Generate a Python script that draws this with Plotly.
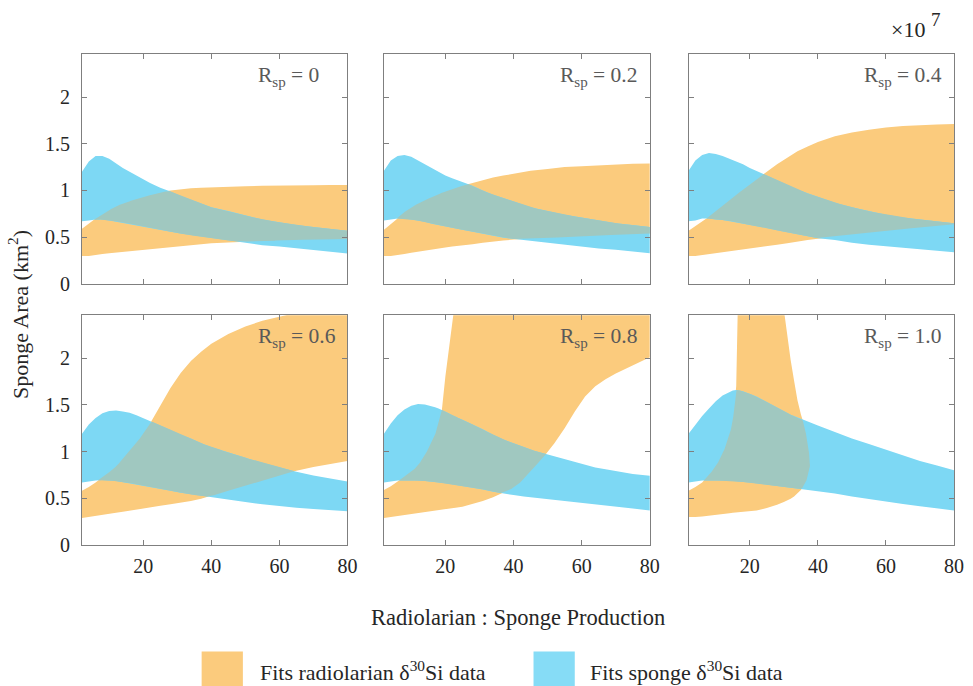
import numpy as np
import plotly.graph_objects as go

# ---------------- data ----------------
rsp_labels = ["0", "0.2", "0.4", "0.6", "0.8", "1.0"]

x_tick_vals = [20, 40, 60, 80]
y_tick_vals = [0, 0.5, 1, 1.5, 2]
y_tick_text = ["0", "0.5", "1", "1.5", "2"]

x_std = [2, 4, 6, 8, 10, 12, 14, 16, 18, 20, 22, 25, 28, 31, 34, 37, 40, 45, 50, 55, 60, 65, 70, 75, 80]

# R_sp = 0
x_r0 = x_std
sp_hi_r0 = [1.20, 1.31, 1.37, 1.37, 1.34, 1.29, 1.24, 1.20, 1.16, 1.12, 1.08, 1.03, 0.99, 0.94, 0.90, 0.86, 0.82, 0.78, 0.735, 0.69, 0.66, 0.63, 0.61, 0.59, 0.57]
sp_lo_r0 = [0.67, 0.68, 0.69, 0.69, 0.68, 0.67, 0.66, 0.645, 0.63, 0.615, 0.60, 0.58, 0.56, 0.54, 0.52, 0.505, 0.49, 0.465, 0.44, 0.415, 0.40, 0.38, 0.365, 0.345, 0.325]
rad_hi_r0 = [0.59, 0.65, 0.70, 0.75, 0.79, 0.83, 0.86, 0.885, 0.91, 0.93, 0.95, 0.98, 1.00, 1.015, 1.025, 1.03, 1.035, 1.04, 1.045, 1.05, 1.05, 1.055, 1.055, 1.06, 1.06]
rad_lo_r0 = [0.30, 0.30, 0.31, 0.32, 0.33, 0.34, 0.345, 0.35, 0.36, 0.37, 0.375, 0.385, 0.395, 0.405, 0.415, 0.425, 0.435, 0.445, 0.455, 0.46, 0.465, 0.47, 0.475, 0.478, 0.48]

# R_sp = 0.2
x_r2 = x_std
sp_hi_r2 = [1.21, 1.32, 1.37, 1.38, 1.36, 1.32, 1.28, 1.235, 1.20, 1.16, 1.13, 1.09, 1.05, 1.00, 0.955, 0.92, 0.88, 0.82, 0.78, 0.74, 0.71, 0.68, 0.65, 0.63, 0.61]
sp_lo_r2 = [0.68, 0.69, 0.70, 0.70, 0.69, 0.68, 0.665, 0.645, 0.63, 0.615, 0.60, 0.58, 0.56, 0.54, 0.515, 0.495, 0.48, 0.46, 0.44, 0.42, 0.40, 0.38, 0.365, 0.35, 0.33]
rad_hi_r2 = [0.58, 0.64, 0.71, 0.77, 0.82, 0.86, 0.895, 0.93, 0.96, 0.99, 1.01, 1.05, 1.08, 1.11, 1.14, 1.16, 1.18, 1.21, 1.23, 1.25, 1.26, 1.27, 1.28, 1.285, 1.29]
rad_lo_r2 = [0.30, 0.30, 0.31, 0.32, 0.335, 0.345, 0.355, 0.37, 0.38, 0.39, 0.40, 0.415, 0.425, 0.44, 0.455, 0.465, 0.475, 0.485, 0.495, 0.50, 0.51, 0.52, 0.525, 0.533, 0.54]

# R_sp = 0.4
x_r4 = x_std
sp_hi_r4 = [1.21, 1.32, 1.38, 1.40, 1.39, 1.37, 1.34, 1.31, 1.28, 1.24, 1.21, 1.16, 1.11, 1.06, 1.01, 0.97, 0.93, 0.87, 0.82, 0.78, 0.74, 0.71, 0.69, 0.67, 0.65]
sp_lo_r4 = [0.67, 0.68, 0.70, 0.70, 0.69, 0.685, 0.675, 0.66, 0.645, 0.63, 0.62, 0.60, 0.575, 0.55, 0.53, 0.51, 0.49, 0.47, 0.44, 0.42, 0.40, 0.385, 0.37, 0.355, 0.34]
rad_hi_r4 = [0.57, 0.62, 0.665, 0.72, 0.78, 0.835, 0.89, 0.95, 1.01, 1.07, 1.12, 1.20, 1.28, 1.35, 1.42, 1.47, 1.52, 1.58, 1.62, 1.65, 1.675, 1.69, 1.70, 1.705, 1.71]
rad_lo_r4 = [0.30, 0.30, 0.31, 0.32, 0.33, 0.34, 0.35, 0.36, 0.37, 0.38, 0.39, 0.405, 0.42, 0.435, 0.45, 0.47, 0.485, 0.505, 0.53, 0.55, 0.57, 0.59, 0.605, 0.62, 0.64]

# R_sp = 0.6
x_r6 = x_std
sp_hi_r6 = [1.19, 1.29, 1.36, 1.41, 1.435, 1.44, 1.43, 1.415, 1.39, 1.36, 1.33, 1.28, 1.23, 1.18, 1.14, 1.09, 1.05, 0.99, 0.935, 0.88, 0.83, 0.785, 0.745, 0.71, 0.68]
sp_lo_r6 = [0.67, 0.68, 0.69, 0.695, 0.69, 0.685, 0.675, 0.665, 0.65, 0.635, 0.62, 0.60, 0.58, 0.56, 0.54, 0.525, 0.515, 0.485, 0.46, 0.435, 0.415, 0.40, 0.385, 0.37, 0.36]
rad_hi_r6 = [0.58, 0.62, 0.67, 0.73, 0.78, 0.84, 0.92, 1.00, 1.09, 1.19, 1.30, 1.49, 1.68, 1.84, 1.97, 2.07, 2.155, 2.26, 2.34, 2.40, 2.445, 2.49, 2.53, 2.56, 2.59]
rad_lo_r6 = [0.29, 0.30, 0.31, 0.32, 0.335, 0.345, 0.355, 0.365, 0.38, 0.39, 0.40, 0.42, 0.435, 0.45, 0.47, 0.495, 0.525, 0.58, 0.64, 0.695, 0.75, 0.795, 0.835, 0.87, 0.90]

# R_sp = 0.8
x_r8 = [2, 4, 6, 8, 10, 12, 14, 16, 17, 18, 19, 20, 21, 22, 23, 25, 28, 31, 34, 37, 40,
        43, 46, 49, 52, 55, 58, 61, 64, 67, 70, 75, 80]
sp_hi_r8 = [1.19, 1.30, 1.39, 1.45, 1.49, 1.51, 1.505, 1.49, 1.475, 1.46, 1.445, 1.43, 1.41, 1.39, 1.375,
            1.34, 1.29, 1.24, 1.18, 1.13, 1.09, 1.05, 1.01, 0.98, 0.95, 0.92, 0.89, 0.86, 0.83, 0.81, 0.79, 0.76, 0.74]
sp_lo_r8 = [0.67, 0.68, 0.69, 0.69, 0.69, 0.69, 0.685, 0.68, 0.675, 0.67, 0.665, 0.66, 0.655, 0.65, 0.645,
            0.635, 0.615, 0.595, 0.57, 0.55, 0.535, 0.52, 0.505, 0.49, 0.48, 0.47, 0.455, 0.445, 0.435, 0.42, 0.41, 0.39, 0.37]
rad_hi_r8 = [0.59, 0.63, 0.68, 0.73, 0.78, 0.85, 0.96, 1.10, 1.18, 1.30, 1.45, 1.80, 2.10, 2.40, 2.65,
             2.8, 2.8, 2.8, 2.8, 2.8, 2.8, 2.8, 2.8, 2.8, 2.8, 2.8, 2.8, 2.8, 2.8, 2.8, 2.8, 2.8, 2.8]
rad_lo_r8 = [0.29, 0.30, 0.31, 0.32, 0.335, 0.345, 0.355, 0.365, 0.37, 0.375, 0.38, 0.385, 0.39, 0.395, 0.40,
             0.41, 0.44, 0.47, 0.51, 0.56, 0.61, 0.70, 0.83, 0.95, 1.09, 1.25, 1.43, 1.59, 1.70, 1.775, 1.835, 1.925, 2.01]

# R_sp = 1.0
x_r10 = [2, 4, 6, 8, 10, 12, 14, 15, 16, 16.5, 17, 18, 20, 22, 25, 28, 30,
         31, 32, 33, 34, 35, 36, 37, 37.8, 40, 45, 50, 55, 60, 65, 70, 75, 80]
sp_hi_r10 = [1.19, 1.29, 1.38, 1.46, 1.54, 1.60, 1.64, 1.655, 1.66, 1.66, 1.655, 1.645, 1.62, 1.59, 1.53, 1.47, 1.43,
             1.41, 1.395, 1.38, 1.365, 1.35, 1.335, 1.32, 1.31, 1.28, 1.21, 1.14, 1.08, 1.02, 0.96, 0.90, 0.85, 0.80]
sp_lo_r10 = [0.67, 0.68, 0.69, 0.69, 0.69, 0.69, 0.69, 0.685, 0.685, 0.68, 0.68, 0.675, 0.67, 0.665, 0.65, 0.635, 0.625,
             0.62, 0.615, 0.61, 0.605, 0.60, 0.595, 0.59, 0.585, 0.575, 0.55, 0.52, 0.49, 0.465, 0.44, 0.415, 0.39, 0.37]
rad_hi_r10 = [0.58, 0.62, 0.67, 0.75, 0.84, 0.97, 1.17, 1.32, 1.70, 2.60, 2.80, 2.80, 2.80, 2.80, 2.80, 2.80, 2.52,
              2.24, 1.98, 1.76, 1.55, 1.40, 1.28, 1.10, 0.87, None, None, None, None, None, None, None, None, None]
rad_lo_r10 = [0.30, 0.30, 0.305, 0.315, 0.32, 0.33, 0.34, 0.345, 0.35, 0.35, 0.355, 0.36, 0.365, 0.37, 0.395, 0.43, 0.46,
              0.475, 0.495, 0.52, 0.55, 0.59, 0.64, 0.72, 0.87, None, None, None, None, None, None, None, None, None]

panels = [
    (x_r0, rad_lo_r0, rad_hi_r0, sp_lo_r0, sp_hi_r0),
    (x_r2, rad_lo_r2, rad_hi_r2, sp_lo_r2, sp_hi_r2),
    (x_r4, rad_lo_r4, rad_hi_r4, sp_lo_r4, sp_hi_r4),
    (x_r6, rad_lo_r6, rad_hi_r6, sp_lo_r6, sp_hi_r6),
    (x_r8, rad_lo_r8, rad_hi_r8, sp_lo_r8, sp_hi_r8),
    (x_r10, rad_lo_r10, rad_hi_r10, sp_lo_r10, sp_hi_r10),
]

# ---------------- style ----------------
ORANGE = "#FBCB7D"
BLUE = "#7DD8F4"
OVERLAP = "#A0C8C0"
AXIS_GRAY = "#7F7F7F"
TEXT = "#262626"
LABEL_GRAY = "#595959"
FONT = "Liberation Serif"

X_RANGE = [2, 80]
Y_RANGE = [0, 2.46]

col_domains = [[0.0, 0.3044], [0.3463, 0.6512], [0.6956, 1.0]]
row_domains = [[0.5316, 1.0], [0.0, 0.468]]


def arr(v):
    return np.array(v, dtype=float)


def band_polygon(x, lo, hi):
    x, lo, hi = arr(x), arr(lo), arr(hi)
    m = ~(np.isnan(lo) | np.isnan(hi))
    xs = x[m]
    return (np.concatenate([xs, xs[::-1]]).tolist(),
            np.concatenate([hi[m], lo[m][::-1]]).tolist())


def overlap_polygon(x, a_lo, a_hi, b_lo, b_hi):
    """Intersection of two bands drawn as straight segments between the data points."""
    x = arr(x)
    a_lo, a_hi, b_lo, b_hi = arr(a_lo), arr(a_hi), arr(b_lo), arr(b_hi)
    ma = ~(np.isnan(a_lo) | np.isnan(a_hi))
    mb = ~(np.isnan(b_lo) | np.isnan(b_hi))
    x0 = max(x[ma].min(), x[mb].min())
    x1 = min(x[ma].max(), x[mb].max())
    fine = np.linspace(x0, x1, 3000)
    alo = np.interp(fine, x[ma], a_lo[ma])
    ahi = np.interp(fine, x[ma], a_hi[ma])
    blo = np.interp(fine, x[mb], b_lo[mb])
    bhi = np.interp(fine, x[mb], b_hi[mb])
    lo = np.maximum(alo, blo)
    hi = np.minimum(ahi, bhi)
    pos = hi > lo
    px, py = [], []
    i, n = 0, len(fine)
    while i < n:
        if pos[i]:
            j = i
            while j + 1 < n and pos[j + 1]:
                j += 1
            seg = slice(i, j + 1)
            xs = fine[seg]
            px += list(xs) + list(xs[::-1]) + [None]
            py += list(hi[seg]) + list(lo[seg][::-1]) + [None]
            i = j + 1
        else:
            i += 1
    return px, py


fig = go.Figure()
layout_axes = {}
annotations = []

for k, (x, rlo, rhi, slo, shi) in enumerate(panels):
    n = k + 1
    r, c = divmod(k, 3)
    xa = "x" if n == 1 else f"x{n}"
    ya = "y" if n == 1 else f"y{n}"

    ox, oy = band_polygon(x, rlo, rhi)
    fig.add_trace(go.Scatter(x=ox, y=oy, xaxis=xa, yaxis=ya, mode="lines", fill="toself",
                             fillcolor=ORANGE, line=dict(width=0), hoverinfo="skip", showlegend=False))
    bx, by = band_polygon(x, slo, shi)
    fig.add_trace(go.Scatter(x=bx, y=by, xaxis=xa, yaxis=ya, mode="lines", fill="toself",
                             fillcolor=BLUE, line=dict(width=0), hoverinfo="skip", showlegend=False))
    vx, vy = overlap_polygon(x, rlo, rhi, slo, shi)
    fig.add_trace(go.Scatter(x=vx, y=vy, xaxis=xa, yaxis=ya, mode="lines", fill="toself",
                             fillcolor=OVERLAP, line=dict(width=0), hoverinfo="skip", showlegend=False))

    common = dict(showline=True, linecolor=AXIS_GRAY, linewidth=1, mirror="ticks",
                  ticks="inside", ticklen=5, tickwidth=1, tickcolor=AXIS_GRAY,
                  showgrid=False, zeroline=False,
                  tickfont=dict(family=FONT, size=20, color=TEXT))
    layout_axes["xaxis" if n == 1 else f"xaxis{n}"] = dict(
        common, domain=col_domains[c], anchor=ya, range=X_RANGE,
        tickvals=x_tick_vals, showticklabels=(r == 1), ticklabelstandoff=3)
    layout_axes["yaxis" if n == 1 else f"yaxis{n}"] = dict(
        common, domain=row_domains[r], anchor=xa, range=Y_RANGE,
        tickvals=y_tick_vals, ticktext=y_tick_text, showticklabels=(c == 0), ticklabelstandoff=7)

    annotations.append(dict(text=f"R<sub>sp</sub> = {rsp_labels[k]}", xref=xa, yref=ya,
                            x=53.0, y=2.39, xanchor="left", yanchor="top", showarrow=False,
                            font=dict(family=FONT, size=21.5, color=LABEL_GRAY)))

# exponent marker
annotations.append(dict(text="×10", xref="paper", yref="paper", x=0.969, y=1.0498,
                        xanchor="right", yanchor="middle", showarrow=False,
                        font=dict(family=FONT, size=22, color=TEXT)))
annotations.append(dict(text="7", xref="paper", yref="paper", x=0.9712, y=1.0702,
                        xanchor="left", yanchor="middle", showarrow=False,
                        font=dict(family=FONT, size=19, color=TEXT)))
# axis titles
annotations.append(dict(text="Radiolarian : Sponge Production", xref="paper", yref="paper",
                        x=0.5, y=-0.148, xanchor="center", yanchor="middle", showarrow=False,
                        font=dict(family=FONT, size=22.5, color=TEXT)))
annotations.append(dict(text="Sponge Area (km<sup>2</sup>)", xref="paper", yref="paper",
                        x=-0.0726, y=0.47, xanchor="center", yanchor="middle", textangle=-90,
                        showarrow=False, font=dict(family=FONT, size=22, color=TEXT)))
# legend entries
annotations.append(dict(text="Fits radiolarian δ<sup>30</sup>Si data", xref="paper", yref="paper",
                        x=0.2015, y=-0.256, xanchor="left", yanchor="middle", showarrow=False,
                        font=dict(family=FONT, size=22, color=TEXT)))
annotations.append(dict(text="Fits sponge δ<sup>30</sup>Si data", xref="paper", yref="paper",
                        x=0.5802, y=-0.256, xanchor="left", yanchor="middle", showarrow=False,
                        font=dict(family=FONT, size=22, color=TEXT)))

shapes = [
    dict(type="rect", xref="paper", yref="paper", x0=0.1372, x1=0.1845, y0=-0.30, y1=-0.2171,
         fillcolor=ORANGE, line=dict(width=0), layer="above"),
    dict(type="rect", xref="paper", yref="paper", x0=0.5178, x1=0.5651, y0=-0.30, y1=-0.2171,
         fillcolor="#86DCF6", line=dict(width=0), layer="above"),
]

fig.update_layout(
    width=973, height=686,
    margin=dict(l=82, r=9, t=54, b=141, pad=0),
    paper_bgcolor="white", plot_bgcolor="white",
    showlegend=False,
    annotations=annotations,
    shapes=shapes,
    **layout_axes,
)

fig.write_html("out.html",
               config={"displayModeBar": False},
               post_script="document.body.style.margin='0';document.body.style.padding='0';")
